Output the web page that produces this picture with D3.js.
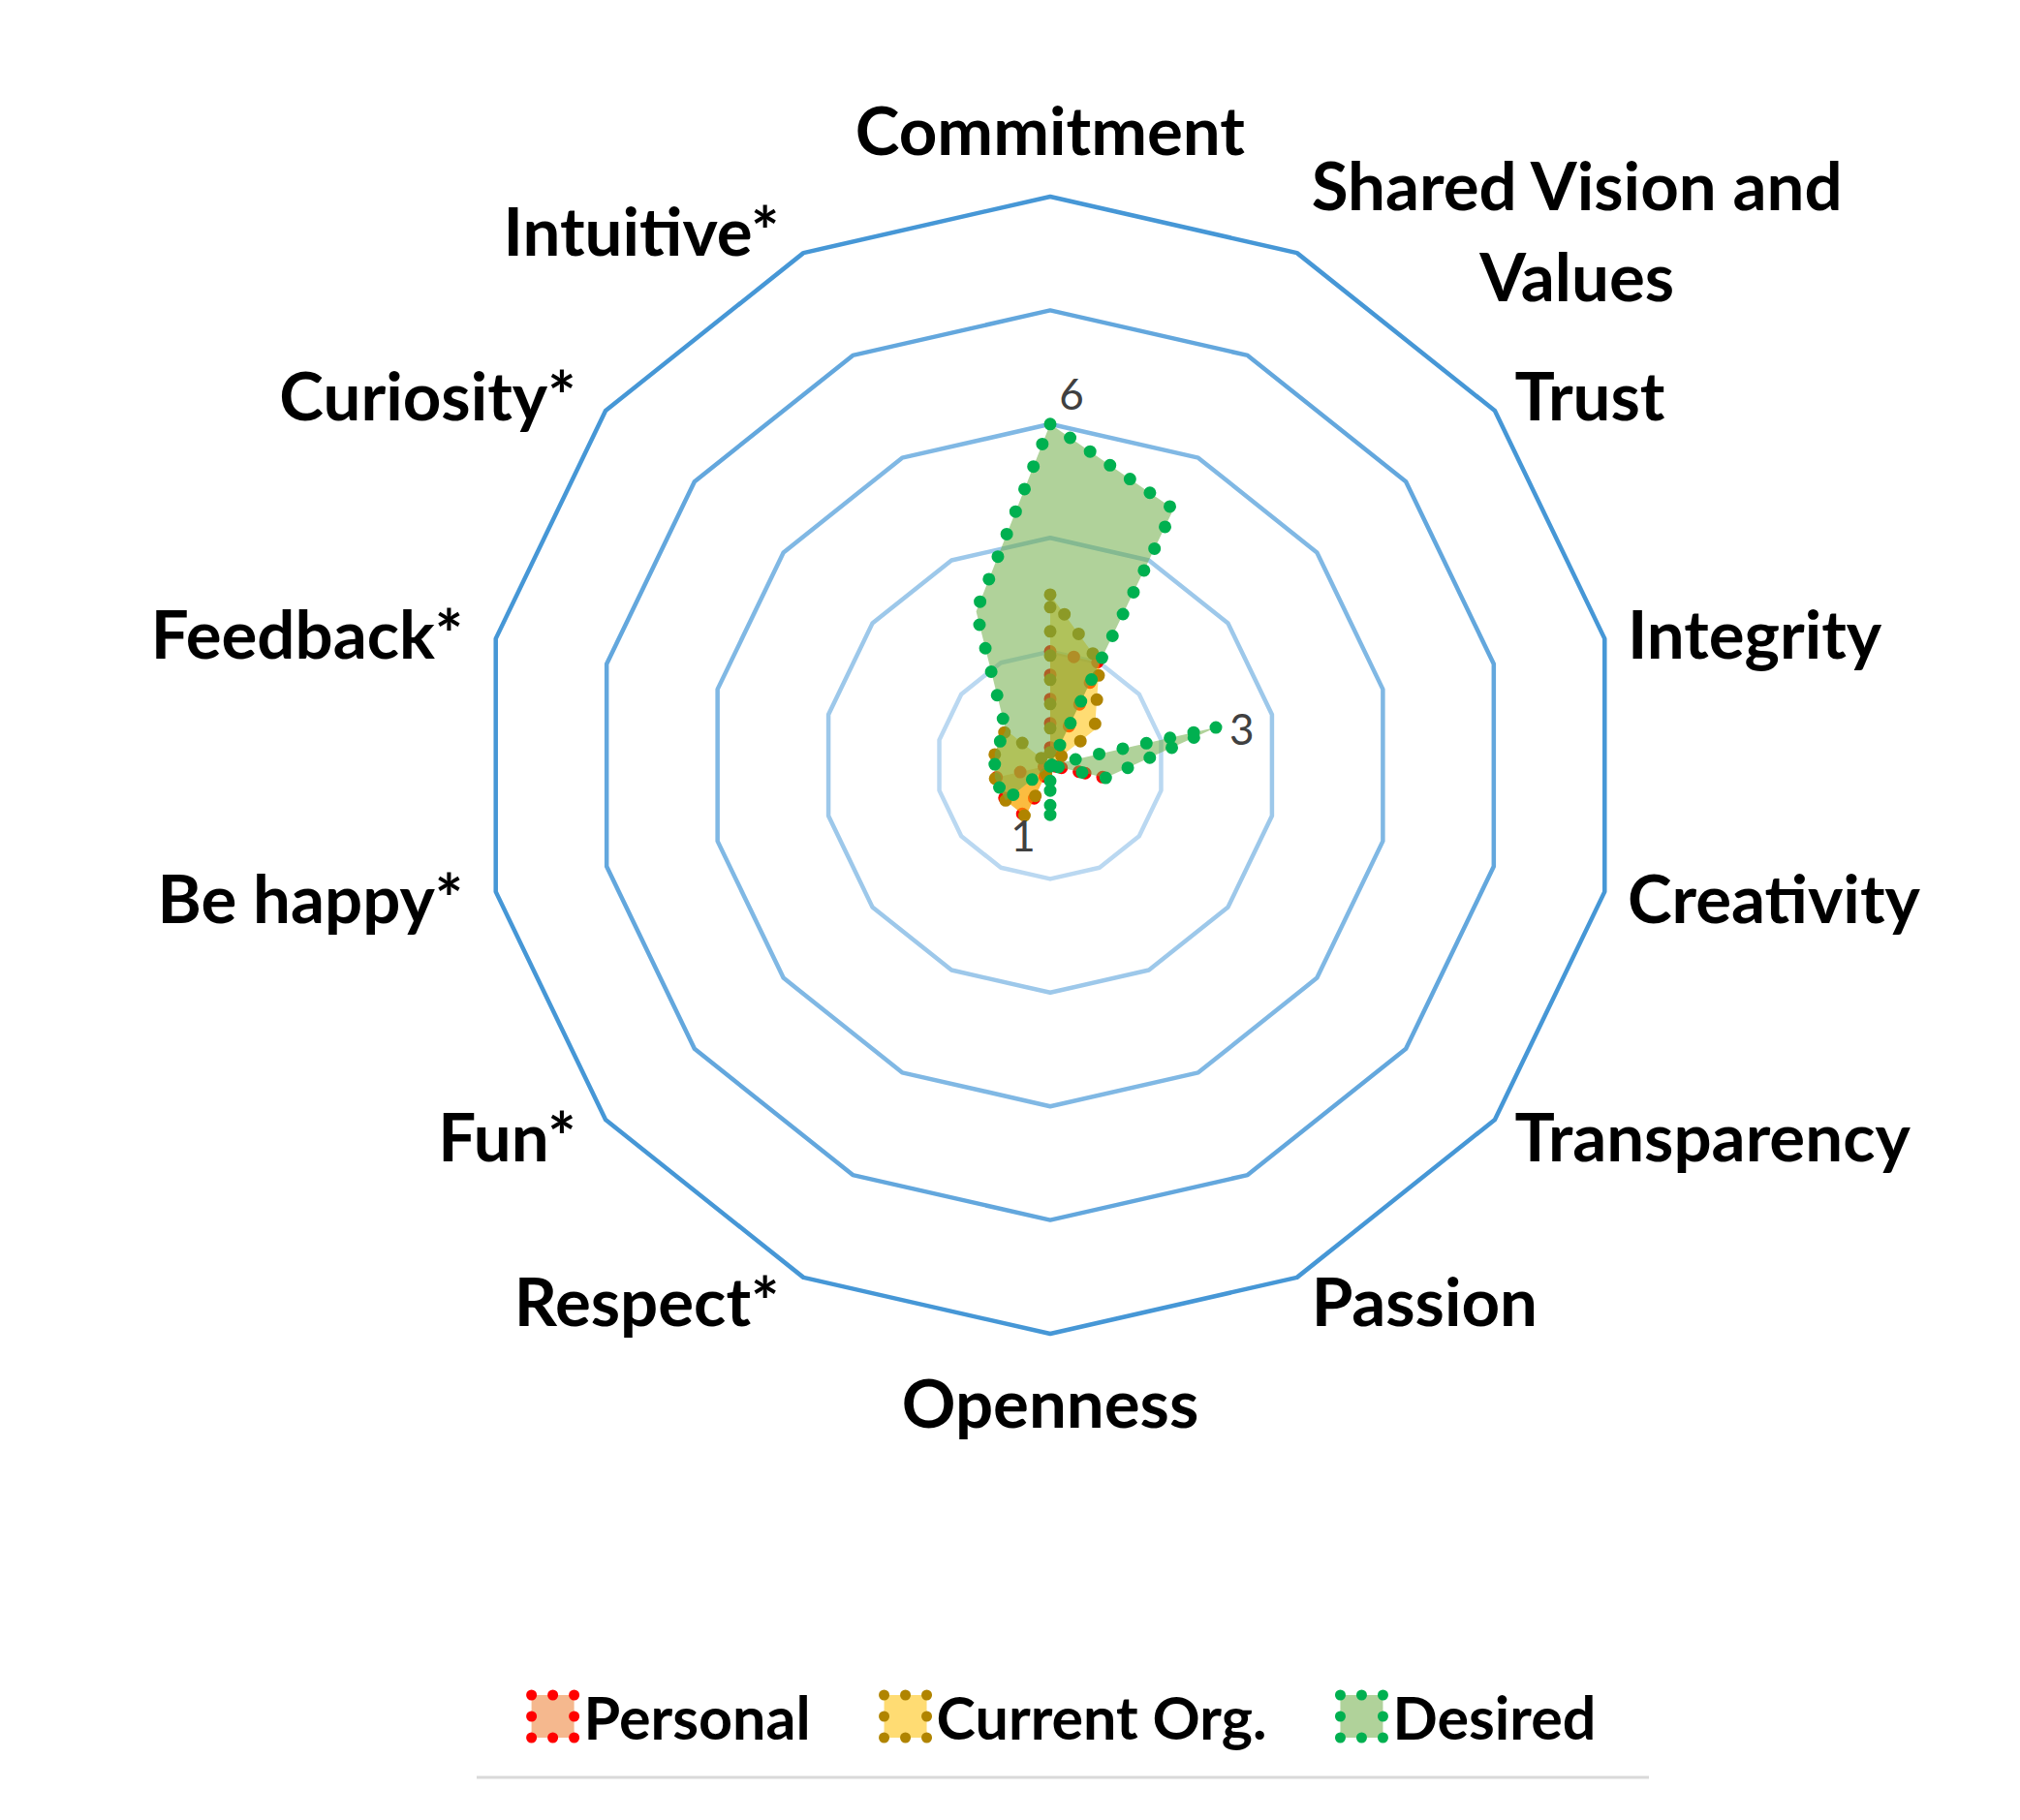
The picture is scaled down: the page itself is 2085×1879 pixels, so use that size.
<!DOCTYPE html>
<html>
<head>
<meta charset="utf-8">
<script src="https://cdn.jsdelivr.net/npm/d3@7"></script>
<style>
  body { margin: 0; background: #fff; }
  text { font-family: Lato, 'Open Sans', sans-serif; }
</style>
</head>
<body>
<script>
// ─── DATA ────────────────────────────────────────────────────────────────────
const categories = ['Commitment', 'Shared Vision and Values', 'Trust', 'Integrity',
  'Creativity', 'Transparency', 'Passion', 'Openness', 'Respect*', 'Fun*',
  'Be happy*', 'Feedback*', 'Curiosity*', 'Intuitive*'];

const personal   = [2, 2, 0, 0, 1, 0, 0, 0, 1, 1, 1, 0, 0, 0];
const currentOrg = [3, 2, 1, 0, 0, 0, 0, 0, 1, 1, 1, 1, 1, 0];
const desired    = [6, 5, 0, 3, 1, 0, 0, 1, 0, 1, 1, 1, 1, 3];

const seriesNames = ['Personal', 'Current Org.', 'Desired'];
const ringTicks = [2, 4, 6, 8, 10];

// desired-series points that carry a data label (category index)
const labelledPoints = [0, 3, 7];

// ─── LAYOUT ──────────────────────────────────────────────────────────────────
const W = 2085, H = 1879;
const cx = 1084, cy = 790, R = 587;
const labelNudge = { 0: [22, -32], 3: [26, 1], 7: [-28, 13] };

const svg = d3.select('body').append('svg')
  .attr('width', W).attr('height', H)
  .style('background', '#fff');

const plot = svg.append('g').attr('transform', `translate(${cx},${cy})`);

const r = d3.scaleLinear().domain([0, 10]).range([0, R]);
const angle = d3.scaleLinear().domain([0, categories.length]).range([0, 2 * Math.PI]);

const radial = d3.lineRadial()
  .angle((d, i) => angle(i))
  .radius(d => r(d))
  .curve(d3.curveLinearClosed);

// grid rings, lighter toward the centre
const ringColor = d3.scaleLinear().domain([2, 10]).range(['#BAD8F1', '#4697D6']);
ringTicks.forEach(t => {
  plot.append('path')
    .attr('d', radial(categories.map(() => t)))
    .attr('fill', 'none')
    .attr('stroke', ringColor(t))
    .attr('stroke-width', 4.5)
    .attr('stroke-linejoin', 'round');
});

// ─── SERIES ──────────────────────────────────────────────────────────────────
const series = [
  { name: seriesNames[0], values: personal,   stroke: '#FF0000', fill: '#ED7D31' },
  { name: seriesNames[1], values: currentOrg, stroke: '#B08400', fill: '#FFC000' },
  { name: seriesNames[2], values: desired,    stroke: '#00B050', fill: '#70AD47' }
];

series.forEach(s => {
  plot.append('path')
    .attr('d', radial(s.values))
    .attr('fill', s.fill)
    .attr('fill-opacity', 0.55)
    .attr('stroke', s.stroke)
    .attr('stroke-width', 13)
    .attr('stroke-linecap', 'round')
    .attr('stroke-linejoin', 'round')
    .attr('stroke-dasharray', '0 25');
});

// data labels on the desired series
labelledPoints.forEach(i => {
  const a = angle(i), v = desired[i];
  const [dx, dy] = labelNudge[i];
  plot.append('text')
    .attr('x', r(v) * Math.sin(a) + dx)
    .attr('y', -r(v) * Math.cos(a) + dy)
    .attr('text-anchor', 'middle')
    .attr('dominant-baseline', 'central')
    .attr('font-size', 44)
    .attr('fill', '#404040')
    .text(v);
});

// ─── CATEGORY LABELS ─────────────────────────────────────────────────────────
function wrap(label) {
  const lines = [];
  let cur = '';
  label.split(' ').forEach(w => {
    const next = cur ? cur + ' ' + w : w;
    if (next.length > 17 && cur) { lines.push(cur); cur = w; }
    else cur = next;
  });
  lines.push(cur);
  return lines;
}

categories.forEach((c, i) => {
  const a = angle(i), s = Math.sin(a), co = Math.cos(a);
  const vx = cx + R * s, vy = cy - R * co;
  const g = svg.append('g');
  const t = g.append('text')
    .attr('text-anchor', 'middle')
    .attr('font-weight', 700)
    .attr('font-size', 69)
    .attr('fill', '#000');
  wrap(c).forEach((line, k) => {
    t.append('tspan').attr('x', 0).attr('dy', k ? '1.36em' : 0).text(line);
  });
  const b = g.node().getBBox();
  const polar = Math.abs(s) < 0.05;
  let tx;
  if (polar) tx = vx - (b.x + b.width / 2);
  else if (s > 0) tx = vx + 8 + 16 * s - b.x;
  else tx = vx - 18 - 16 * Math.abs(s) - (b.x + b.width);
  const yc = vy - (polar ? 70 : 26) * co;
  const ty = yc - (b.y + b.height / 2);
  g.attr('transform', `translate(${tx},${ty})`);
});

// ─── LEGEND ──────────────────────────────────────────────────────────────────
const legend = svg.append('g');
let lx = 0;
series.forEach(s => {
  const item = legend.append('g').attr('transform', `translate(${lx},0)`);
  item.append('rect')
    .attr('x', 0).attr('y', -22)
    .attr('width', 44).attr('height', 44)
    .attr('fill', s.fill).attr('fill-opacity', 0.55)
    .attr('stroke', s.stroke)
    .attr('stroke-width', 11)
    .attr('stroke-linecap', 'round')
    .attr('stroke-dasharray', '0 22');
  const txt = item.append('text')
    .attr('x', 54).attr('y', 0)
    .attr('dominant-baseline', 'central')
    .attr('font-weight', 700)
    .attr('font-size', 61)
    .attr('fill', '#000')
    .text(s.name);
  lx += 54 + txt.node().getComputedTextLength() + 76;
});
const lb = legend.node().getBBox();
legend.attr('transform', `translate(${1098 - (lb.x + lb.width / 2)},1772)`);

svg.append('line')
  .attr('x1', 492).attr('x2', 1702)
  .attr('y1', 1835).attr('y2', 1835)
  .attr('stroke', '#D9D9D9')
  .attr('stroke-width', 3);
</script>
</body>
</html>
